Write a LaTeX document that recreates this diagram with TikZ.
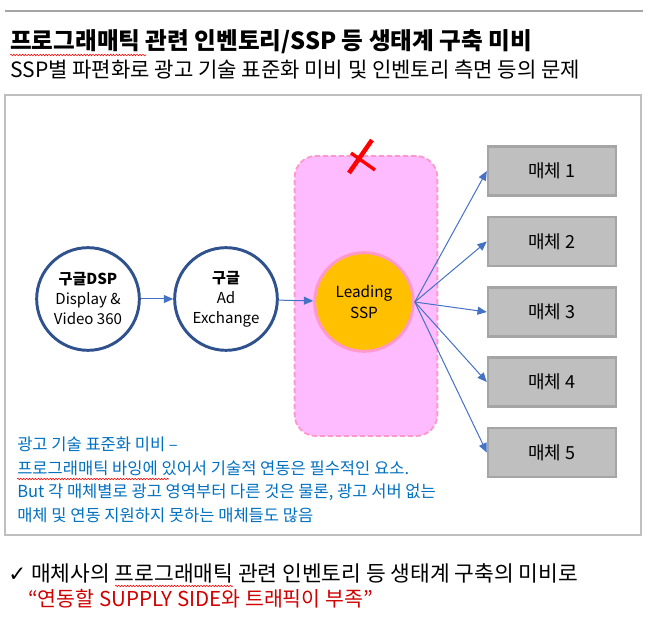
\documentclass[tikz,border=0pt]{standalone}
\usepackage{fontspec}
\setmainfont{Noto Sans CJK KR}
\newfontfamily\chkfont{DejaVu Sans}
\usepackage{xcolor}
\usepackage{tikz}
\usetikzlibrary{arrows.meta,positioning,decorations.pathmorphing}
\definecolor{circblue}{HTML}{2F528F}
\definecolor{arrblue}{HTML}{4472C4}
\definecolor{zonefill}{HTML}{FFBBFF}
\definecolor{zoneline}{HTML}{FF99CC}
\definecolor{sspfill}{HTML}{FFC000}
\definecolor{boxfill}{HTML}{BFBFBF}
\definecolor{boxline}{HTML}{A5A5A5}
\definecolor{noteblue}{HTML}{0070C0}
\definecolor{notered}{HTML}{D00000}
\tikzstyle{arrow}=[-{Triangle[length=7pt,width=6pt]}, draw=arrblue, line width=0.75pt]
\tikzstyle{squig}=[decorate, decoration={snake,amplitude=0.6pt,segment length=2.2pt}, draw=red, line width=0.4pt]

\begin{document}
\begin{tikzpicture}[x=0.75pt,y=-0.75pt,
  circ/.style={circle,draw=circblue,line width=2.2pt,fill=white,minimum size=77pt,align=center,font=\fontsize{11.3}{15}\selectfont,inner sep=0pt},
  ssp/.style={circle,draw=zoneline,line width=2.2pt,fill=sspfill,minimum size=74pt,align=center,font=\fontsize{11.5}{16}\selectfont,inner sep=0pt},
  media/.style={rectangle,draw=boxline,line width=1.8pt,fill=boxfill,minimum width=96pt,minimum height=37pt,font=\fontsize{13.5}{15}\selectfont},
  txt/.style={anchor=west,inner sep=0pt,align=left}]
\useasboundingbox (0,0) rectangle (661,623);

% header
\draw[boxline,line width=2.2pt] (5,11) -- (643,11);
\node[txt,font=\fontsize{17.7}{21}\selectfont\bfseries] (title) at (10,42) {프로그래매틱 관련 인벤토리/SSP 등 생태계 구축 미비};
\node[txt,font=\fontsize{15.8}{19}\selectfont] (sub) at (10,70) {SSP별 파편화로 광고 기술 표준화 미비 및 인벤토리 측면 등의 문제};
\draw[squig] (10,55) -- (146,55);

% frame
\draw[boxfill,line width=1.5pt] (5,95) rectangle (641,535);

% ssp zone
\node[draw=zoneline,fill=zonefill,dashed,dash pattern=on 4pt off 2pt,line width=1.4pt,rounded corners=16pt,minimum width=107pt,minimum height=210pt] (zone) at (366,296) {};
\draw[red,line width=3.4pt] (372,140) -- (349,173);
\draw[red,line width=2.5pt] (351,153) -- (375,170);

% flow
\node[circ] (dsp) at (88,299) {\textbf{구글DSP}\\Display \&\\Video 360};
\node[circ] (adx) at (226,299) {\textbf{구글}\\Ad\\Exchange};
\node[ssp] (lead) at (364,302) {Leading\\SSP};
\draw[arrow] (dsp) -- (adx);
\draw[arrow] (adx) -- (lead);

% media
\foreach \i/\y in {1/171,2/241.5,3/312,4/382,5/452.5} {
  \node[media] (m\i) at (552,\y) {매체 \i};
  \draw[arrow] (lead.east) -- (m\i.west);
}

% note
\node[txt,text=noteblue,font=\fontsize{12.4}{17.6}\selectfont] (note) at (17,480) {광고 기술 표준화 미비 –\\프로그래매틱 바잉에 있어서 기술적 연동은 필수적인 요소.\\But 각 매체별로 광고 영역부터 다른 것은 물론, 광고 서버 없는\\매체 및 연동 지원하지 못하는 매체들도 많음};
\draw[squig] (17,479) -- (169,479);

% conclusion
\node[txt,font=\fontsize{16.1}{19}\selectfont] (concl) at (8,573) {{\chkfont ✓} 매체사의 프로그래매틱 관련 인벤토리 등 생태계 구축의 미비로};
\node[txt,text=notered,font=\fontsize{15.4}{19}\selectfont] (lack) at (28,599) {“연동할 SUPPLY SIDE와 트래픽이 부족”};
\draw[squig] (115,586) -- (233,586);
\end{tikzpicture}
\end{document}
